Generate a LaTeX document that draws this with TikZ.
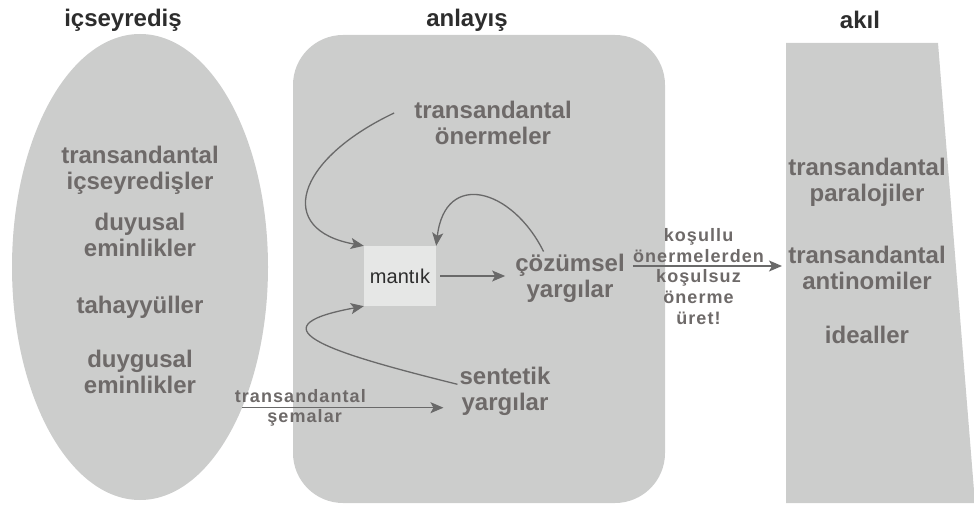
\documentclass[tikz,border=0pt]{standalone}
\usepackage{fontspec}
\setmainfont{Liberation Sans}
\newfontfamily\spacedsans[LetterSpace=6]{Liberation Sans}
\usetikzlibrary{shapes.geometric,arrows.meta}

\definecolor{shapegray}{RGB}{204,205,204}
\definecolor{boxgray}{RGB}{230,231,230}
\definecolor{wordgray}{RGB}{110,106,105}
\definecolor{titlegray}{RGB}{45,45,45}
\definecolor{linegray}{RGB}{105,105,105}

\begin{document}
\begin{tikzpicture}[x=1pt, y=-1pt,
    title/.style = {text=titlegray, font=\bfseries\fontsize{24}{26}\selectfont},
    word/.style = {text=wordgray, align=center, inner sep=2pt, font=\bfseries\fontsize{24}{26}\selectfont},
    smallword/.style = {text=wordgray, align=center, inner sep=1pt, font=\spacedsans\bfseries\fontsize{18}{21}\selectfont},
    link/.style = {draw=linegray, line width=1.3pt, -{Stealth[length=13pt, width=11pt, inset=3pt]}}
  ]

    \useasboundingbox (0,0) rectangle (974,510);

    \node[ellipse, fill=shapegray, minimum width=256pt, minimum height=466pt] (icsey) at (140,267) {};
    \node[rectangle, fill=shapegray, rounded corners=50pt, minimum width=372pt, minimum height=468pt] (anlay) at (479,269) {};
    \fill[shapegray] (786,43) -- (938,43) -- (975,503) -- (786,503) -- cycle;
    \coordinate (akilgiris) at (786,266);

    \node[title] (icseyT) at (123,20) {içseyrediş};
    \node[title] (anlayT) at (467,20) {anlayış};
    \node[title] (akilT) at (860,20) {akıl};

    \node[word] (tIcsey) at (140,170) {transandantal\\içseyredişler};
    \node[word] (duyusal) at (140,235) {duyusal\\eminlikler};
    \node[word] (tahay) at (140,307) {tahayyüller};
    \node[word] (duygusal) at (140,372) {duygusal\\eminlikler};

    \node[word] (tOner) at (493,123) {transandantal\\önermeler};
    \node[fill=boxgray, text=titlegray, minimum width=72pt, minimum height=60pt, font=\fontsize{20}{22}\selectfont] (mantik) at (400,276) {mantık};
    \node[word] (cozum) at (570,278) {çözümsel\\yargılar};
    \node[word] (sentetik) at (505,391) {sentetik\\yargılar};

    \node[word] (tPara) at (867,182) {transandantal\\paralojiler};
    \node[word] (tAnti) at (867,268) {transandantal\\antinomiler};
    \node[word] (ideal) at (867,335) {idealler};

    \draw[link] ([shift={(-18,-10)}]tOner.west) .. controls (295,160) and (275,230) .. (mantik.north west);
    \draw[link] (cozum.135) .. controls (512,188) and (445,170) .. (mantik.north east);
    \draw[link] (sentetik.172) .. controls (340,355) and (245,328) .. (mantik.south west);
    \draw[link, shorten <=4pt, shorten >=8pt] (mantik.east) -- (mantik.east -| cozum.west);

    \draw[link, shorten <=6pt, shorten >=4pt] (cozum.east |- akilgiris) -- (akilgiris)
        node[pos=0.45, above, smallword, inner sep=3pt] {koşullu\\önermelerden}
        node[pos=0.45, below, smallword, inner sep=3pt] {koşulsuz\\önerme\\üret!};
    \draw[link, shorten >=14pt] (icsey.-54) -- (icsey.-54 -| sentetik.west)
        node[pos=0.27, above, smallword, inner sep=4pt] {transandantal}
        node[pos=0.29, below, smallword] {şemalar};
\end{tikzpicture}
\end{document}
